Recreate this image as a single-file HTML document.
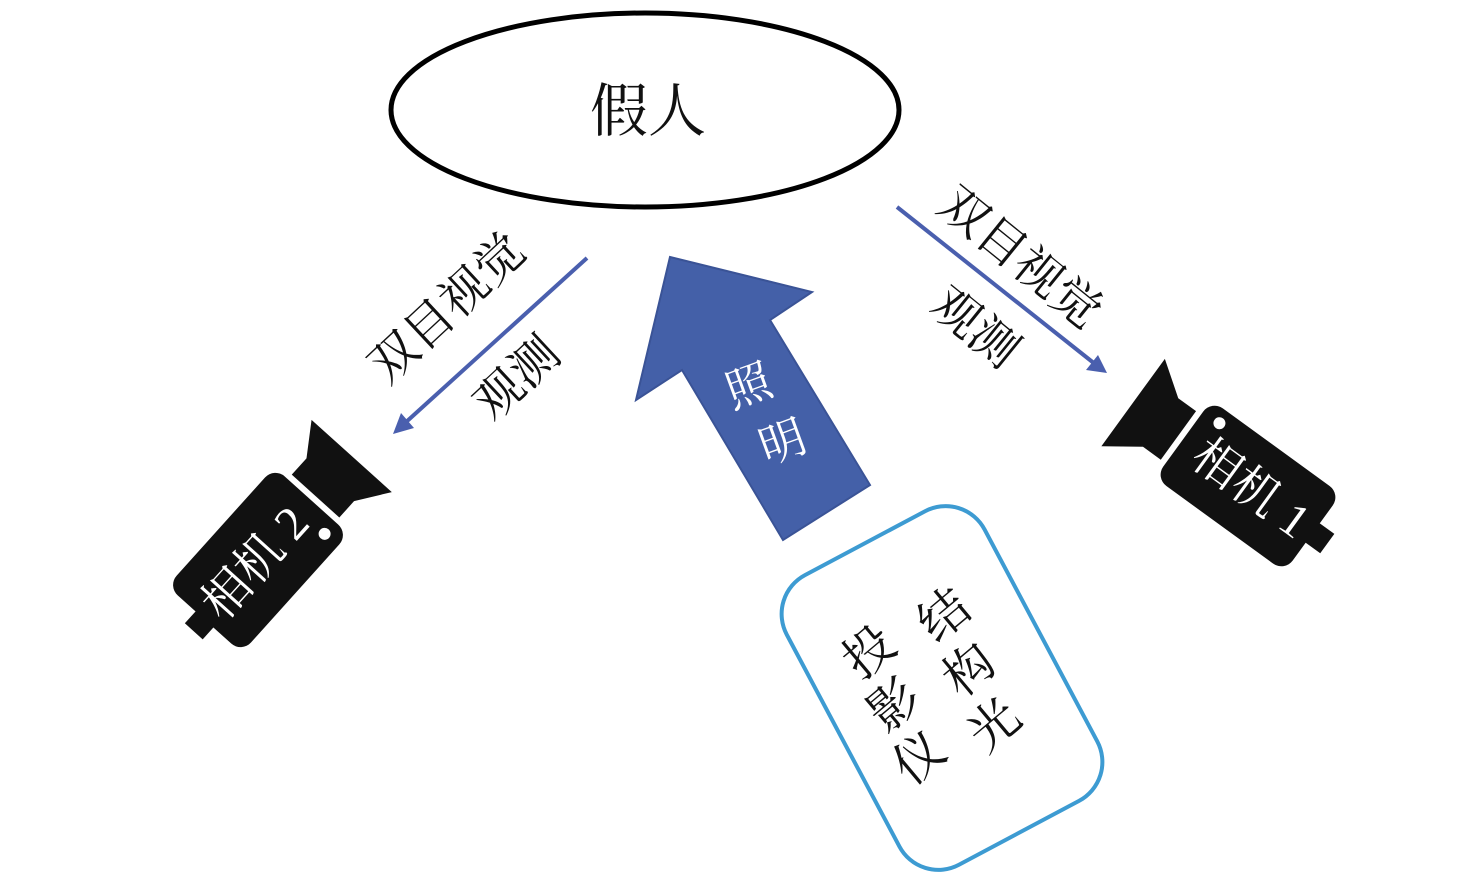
<!DOCTYPE html>
<html><head><meta charset="utf-8"><style>
html,body{margin:0;padding:0;background:#fff;}
svg{display:block;}
text{font-family:"Liberation Serif","Noto Serif CJK SC",serif;}
</style></head><body>
<svg width="1476" height="884" viewBox="0 0 1476 884" xmlns="http://www.w3.org/2000/svg">
<!-- ellipse -->
<ellipse cx="645" cy="110" rx="254" ry="97" fill="#fff" stroke="#000" stroke-width="5"/>
<text x="648" y="131" font-size="58" text-anchor="middle" fill="#111">假人</text>

<!-- left arrow line -->
<line x1="587" y1="258" x2="405" y2="423" stroke="#4a5fae" stroke-width="4"/>
<polygon points="393,434 401,413 414,428" fill="#4a5fae"/>
<text font-size="48" fill="#111" text-anchor="middle" transform="translate(458,320) rotate(-43)">双目视觉</text>
<text font-size="48" fill="#111" text-anchor="middle" transform="translate(528,390) rotate(-43)">观测</text>

<!-- right arrow line -->
<line x1="897" y1="207" x2="1095" y2="364" stroke="#4a5fae" stroke-width="4"/>
<polygon points="1107,373 1086,370 1098,355" fill="#4a5fae"/>
<text font-size="48" fill="#111" text-anchor="middle" transform="translate(1010,270) rotate(39)">双目视觉</text>
<text font-size="48" fill="#111" text-anchor="middle" transform="translate(965,340) rotate(39)">观测</text>

<!-- big arrow -->
<polygon points="670,257 812,292 770,320 870,485 783,540 682,370 636,400" fill="#4460a8" stroke="#3a5396" stroke-width="2"/>
<text x="748" y="402" font-size="46" fill="#fff" text-anchor="middle" transform="rotate(-20 748 385)">照</text>
<text x="782" y="458" font-size="46" fill="#fff" text-anchor="middle" transform="rotate(-20 782 440)">明</text>

<!-- projector box -->
<g transform="translate(942,688) rotate(-28)">
<rect x="-112" y="-164" width="224" height="328" rx="44" fill="#fff" stroke="#3d9bd2" stroke-width="4"/>
</g>
<g font-size="50" fill="#111" text-anchor="middle">
<text transform="translate(955,628) rotate(-40)">结</text>
<text transform="translate(980,683) rotate(-40)">构</text>
<text transform="translate(1005,738) rotate(-40)">光</text>
<text transform="translate(880,665) rotate(-40)">投</text>
<text transform="translate(905,718) rotate(-40)">影</text>
<text transform="translate(930,771) rotate(-40)">仪</text>
</g>

<!-- camera 2 -->
<g transform="translate(258,560) rotate(-48)">
<rect x="-80" y="-50" width="160" height="100" rx="14" fill="#111"/>
<polygon points="86,-32 108,-32 140,-54 140,54 108,32 86,32" fill="#111"/>
<rect x="-96" y="-12" width="20" height="24" fill="#111"/>
<circle cx="64" cy="32" r="6" fill="#fff"/>
<text x="-4" y="16" font-size="48" fill="#fff" text-anchor="middle">相机 2</text>
</g>

<!-- camera 1 -->
<g transform="translate(1248,486) rotate(36)">
<rect x="-80" y="-48" width="160" height="96" rx="14" fill="#111"/>
<polygon points="-86,-30 -108,-30 -142,-54 -142,54 -108,30 -86,30" fill="#111"/>
<rect x="76" y="-12" width="22" height="24" fill="#111"/>
<circle cx="-60" cy="-34" r="6" fill="#fff"/>
<text x="4" y="16" font-size="48" fill="#fff" text-anchor="middle">相机 1</text>
</g>
</svg>
</body></html>
